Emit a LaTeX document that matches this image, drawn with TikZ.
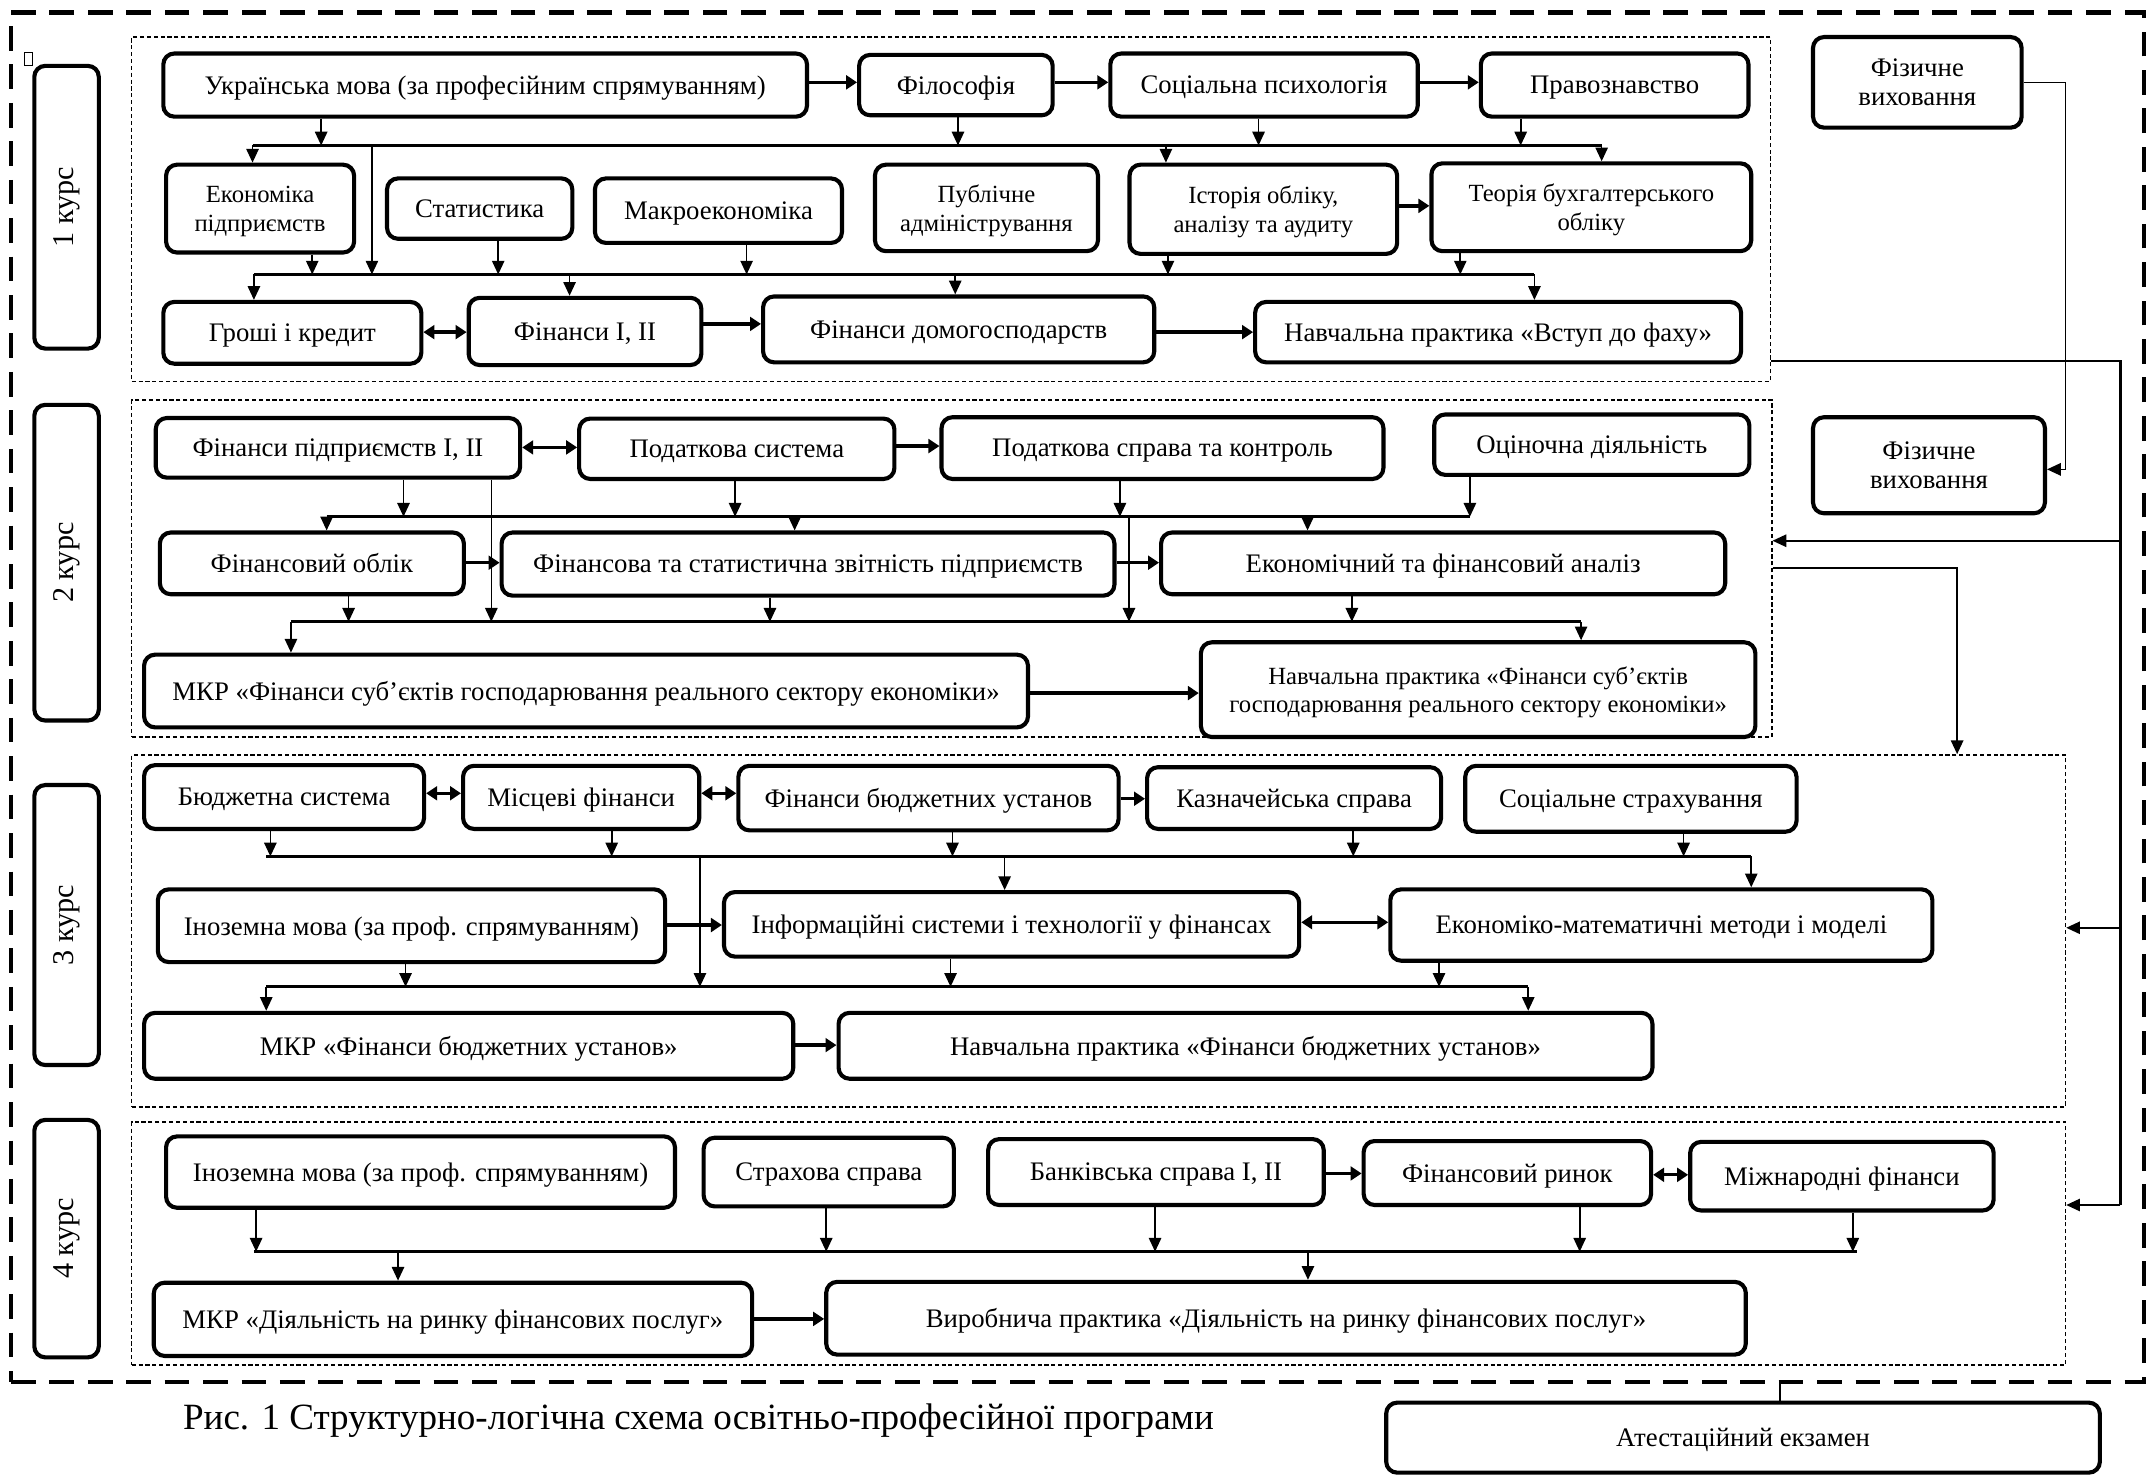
\documentclass[tikz,border=0pt]{standalone}
\usepackage{fontspec}
\setmainfont{Liberation Serif}
\usetikzlibrary{arrows.meta}
\newcommand\bx[7][box]{\node[#1, minimum width={(#5-#3)*0.5pt}, minimum height={(#6-#4)*0.5pt}] (#2) at ({(#3+#5)/2},{(#4+#6)/2}) {#7};}
\tikzset{
  box/.style={draw, line width=1.5pt, rounded corners=4pt, align=center, inner sep=1pt, text depth=0pt, font=\fontsize{9.75}{10.5}\selectfont},
  sbox/.style={box, font=\fontsize{9}{10.5}\selectfont},
  grp/.style={draw, dash pattern=on 1.5pt off 1pt, line width=0.5pt, inner sep=0pt},
  outerb/.style={draw, line width=1.6pt, dash pattern=on 9pt off 5pt, inner sep=0pt},
  arr/.style={-{Triangle[length=5pt,width=4.5pt]}, line width=0.6pt},
  harr/.style={-{Triangle[length=4pt,width=5pt]}, line width=1.2pt},
  dharr/.style={{Triangle[length=4pt,width=5pt]}-{Triangle[length=4pt,width=5pt]}, line width=1.2pt},
  bus/.style={line width=1pt},
  kbox/.style={draw, line width=1.5pt, rounded corners=4pt, rotate=90, inner sep=0pt, font=\fontsize{11}{12}\selectfont}
}
\begin{document}
\begin{tikzpicture}[x=0.5pt,y=-0.5pt]
\useasboundingbox (0,0) rectangle (1568,1074);
% outer frame and groups
\bx[outerb]{outer}{8}{9}{1562}{1007}{}
\bx[grp]{g1}{96}{27}{1290}{278}{}
\bx[grp]{g2}{96}{291.5}{1291}{537}{}
\bx[grp]{g3}{96}{550}{1505}{806.5}{}
\bx[grp]{g4}{96}{817.5}{1505}{994.6}{}
\node[draw, line width=0.4pt, minimum width=3pt, minimum height=5pt, inner sep=0pt] (glyph) at (21,43) {};
% course labels
\node[kbox, minimum width={(254-48)*0.5pt}, minimum height={(72-25)*0.5pt}] (k1) at (48.5,151) {1 курс};
\node[kbox, minimum width={(525-295)*0.5pt}, minimum height={(72-25)*0.5pt}] (k2) at (48.5,410) {2 курс};
\node[kbox, minimum width={(776-572)*0.5pt}, minimum height={(72-25)*0.5pt}] (k3) at (48.5,674) {3 курс};
\node[kbox, minimum width={(989-816)*0.5pt}, minimum height={(72-25)*0.5pt}] (k4) at (48.5,902.5) {4 курс};
% year 1
\bx{ukr}{119}{39}{588}{85}{Українська мова (за професійним спрямуванням)}
\bx{fil}{626}{40}{767}{84}{Філософія}
\bx{soc}{809}{39}{1033}{85}{Соціальна психологія}
\bx{prav}{1079}{39}{1274}{85}{Правознавство}
\bx{fiz1}{1321}{27}{1473}{93}{Фізичне\\виховання}
\bx[sbox]{ekon}{121}{120}{258}{184}{Економіка\\підприємств}
\bx{stat}{282}{130}{417}{174}{Статистика}
\bx{makro}{433.5}{130}{613.5}{177}{Макроекономіка}
\bx[sbox]{publ}{637.5}{120}{800}{183}{Публічне\\адміністрування}
\bx[sbox]{ist}{823}{120}{1018}{185}{Історія обліку,\\аналізу та аудиту}
\bx[sbox]{teor}{1043}{119}{1276}{183}{Теорія бухгалтерського\\обліку}
\bx{groshi}{119}{220}{307}{265}{Гроші і кредит}
\bx{fin12}{341.5}{217}{511}{266}{Фінанси I, II}
\bx{domog}{556}{216}{841}{264}{Фінанси домогосподарств}
\bx{navch1}{914.5}{220}{1268.6}{264}{Навчальна практика «Вступ до фаху»}
% year 2
\bx{fp}{113.5}{304.6}{379}{348}{Фінанси підприємств I, II}
\bx{ps}{422}{305}{651.7}{349}{Податкова система}
\bx{psk}{686}{304}{1008}{349}{Податкова справа та контроль}
\bx{ocin}{1045}{302}{1274.6}{346}{Оціночна діяльність}
\bx{fiz2}{1321}{304}{1490}{374}{Фізичне\\виховання}
\bx{fo}{116.5}{388}{338}{433}{Фінансовий облік}
\bx{fsz}{365.5}{388}{812}{434}{Фінансова та статистична звітність підприємств}
\bx{eka}{846}{388}{1257}{433}{Економічний та фінансовий аналіз}
\bx{mkr2}{105}{477}{749}{530}{МКР «Фінанси суб’єктів господарювання реального сектору економіки»}
\bx[sbox]{np2}{875}{468}{1279}{537}{Навчальна практика «Фінанси суб’єктів\\господарювання реального сектору економіки»}
% year 3
\bx{bs}{105}{557.5}{309}{604}{Бюджетна система}
\bx{mf}{337.4}{558}{509.5}{604}{Місцеві фінанси}
\bx{fbu}{538}{558}{815}{605}{Фінанси бюджетних установ}
\bx{kaz}{835.8}{559}{1050}{604}{Казначейська справа}
\bx{soc3}{1067.6}{558}{1309}{606}{Соціальне страхування}
\bx{inoz3}{115}{648}{484.6}{701}{Іноземна мова (за проф. спрямуванням)}
\bx{inf}{527.5}{650}{946.6}{697}{Інформаційні системи і технології у фінансах}
\bx{ekm}{1013}{648}{1408}{700}{Економіко-математичні методи і моделі}
\bx{mkr3}{105}{738}{578}{786}{МКР «Фінанси бюджетних установ»}
\bx{np3}{611}{738}{1204}{786}{Навчальна практика «Фінанси бюджетних установ»}
% year 4
\bx{inoz4}{121}{828}{491.8}{880}{Іноземна мова (за проф. спрямуванням)}
\bx{strah}{512.7}{829}{695}{879}{Страхова справа}
\bx{bank}{720}{830}{964.5}{878}{Банківська справа I, II}
\bx{fr}{993.6}{831.4}{1203}{878}{Фінансовий ринок}
\bx{mf4}{1231.5}{832}{1452.6}{882}{Міжнародні фінанси}
\bx{mkr4}{112}{934.6}{548}{988}{МКР «Діяльність на ринку фінансових послуг»}
\bx{vyr}{602}{934}{1272}{987}{Виробнича практика «Діяльність на ринку фінансових послуг»}
% bottom
\bx{att}{1010}{1022}{1530}{1073}{Атестаційний екзамен}
\node[font=\fontsize{13.5}{15}\selectfont, anchor=west, inner sep=0pt] (cap) at (133,1035) {Рис. 1 Структурно-логічна схема освітньо-професійної програми};

% ---------- connectors year 1
\draw[harr] (ukr.east |- 0,60) -- (fil.west |- 0,60);
\draw[harr] (fil.east |- 0,60) -- (soc.west |- 0,60);
\draw[harr] (soc.east |- 0,60) -- (prav.west |- 0,60);
\coordinate (a1) at (184,106); \coordinate (a2) at (1167,106);
\draw[bus] (a1) -- (a2);
\draw[arr] (234,0 |- ukr.south) -- (234,0 |- a1);
\draw[arr] (698,0 |- fil.south) -- (698,0 |- a1);
\draw[arr] (917,0 |- soc.south) -- (917,0 |- a1);
\draw[arr] (1108,0 |- prav.south) -- (1108,0 |- a1);
\draw[arr] (a1) -- (a1 |- ekon.north);
\draw[arr] (849.5,0 |- a1) -- (849.5,0 |- ist.north);
\draw[arr] (a2) -- (a2 |- teor.north);
\coordinate (b1) at (185,200); \coordinate (b2) at (1118,200);
\draw[bus] (b1) -- (b2);
\draw[arr] (271,0 |- a1) -- (271,0 |- b1);
\draw[arr] (227.5,0 |- ekon.south) -- (227.5,0 |- b1);
\draw[arr] (363,0 |- stat.south) -- (363,0 |- b1);
\draw[arr] (544,0 |- makro.south) -- (544,0 |- b1);
\draw[arr] (851,0 |- ist.south) -- (851,0 |- b1);
\draw[arr] (1064,0 |- teor.south) -- (1064,0 |- b1);
\draw[arr] (b1) -- (b1 |- groshi.north);
\draw[arr] (415,0 |- b1) -- (415,0 |- fin12.north);
\draw[arr] (696,0 |- b1) -- (696,0 |- domog.north);
\draw[arr] (b2) -- (b2 |- navch1.north);
\draw[harr] (ist.east |- 0,150) -- (teor.west |- 0,150);
\draw[dharr] (groshi.east |- 0,242) -- (fin12.west |- 0,242);
\draw[harr] (fin12.east |- 0,236) -- (domog.west |- 0,236);
\draw[harr] (domog.east |- 0,242) -- (navch1.west |- 0,242);

% ---------- year 2
\draw[dharr] (fp.east |- 0,326) -- (ps.west |- 0,326);
\draw[harr] (ps.east |- 0,325) -- (psk.west |- 0,325);
\coordinate (c1) at (238,376.5); \coordinate (c2) at (1071,376.5);
\draw[bus] (c1) -- (c2);
\draw[arr] (294,0 |- fp.south) -- (294,0 |- c1);
\draw[arr] (535.6,0 |- ps.south) -- (535.6,0 |- c1);
\draw[arr] (816,0 |- psk.south) -- (816,0 |- c1);
\draw[arr] (c2 |- ocin.south) -- (c2);
\draw[arr] (c1) -- (c1 |- fo.north);
\draw[arr] (579,0 |- c1) -- (579,0 |- fsz.north);
\draw[arr] (952.7,0 |- c1) -- (952.7,0 |- eka.north);
\draw[harr] (fo.east |- 0,410) -- (fsz.west |- 0,410);
\draw[harr] (fsz.east |- 0,410) -- (eka.west |- 0,410);
\coordinate (d1) at (212,453); \coordinate (d2) at (1152,453);
\draw[bus] (d1) -- (d2);
\draw[arr] (358,0 |- fp.south) -- (358,0 |- d1);
\draw[arr] (822.6,0 |- c1) -- (822.6,0 |- d1);
\draw[arr] (254,0 |- fo.south) -- (254,0 |- d1);
\draw[arr] (561,0 |- fsz.south) -- (561,0 |- d1);
\draw[arr] (985,0 |- eka.south) -- (985,0 |- d1);
\draw[arr] (d1) -- (d1 |- mkr2.north);
\draw[arr] (d2) -- (d2 |- np2.north);
\draw[harr] (mkr2.east |- 0,505) -- (np2.west |- 0,505);

% ---------- year 3
\draw[dharr] (bs.east |- 0,578) -- (mf.west |- 0,578);
\draw[dharr] (mf.east |- 0,578) -- (fbu.west |- 0,578);
\draw[harr] (fbu.east |- 0,582) -- (kaz.west |- 0,582);
\coordinate (e1) at (194,624); \coordinate (e2) at (1276,624);
\draw[bus] (e1) -- (e2);
\draw[arr] (197,0 |- bs.south) -- (197,0 |- e1);
\draw[arr] (445.7,0 |- mf.south) -- (445.7,0 |- e1);
\draw[arr] (694,0 |- fbu.south) -- (694,0 |- e1);
\draw[arr] (986,0 |- kaz.south) -- (986,0 |- e1);
\draw[arr] (1226.7,0 |- soc3.south) -- (1226.7,0 |- e1);
\draw[arr] (732,0 |- e1) -- (732,0 |- inf.north);
\draw[arr] (e2) -- (e2 |- ekm.north);
\draw[harr] (inoz3.east |- 0,674) -- (inf.west |- 0,674);
\draw[dharr] (inf.east |- 0,672) -- (ekm.west |- 0,672);
\coordinate (f1) at (194,719); \coordinate (f2) at (1113.5,719);
\draw[bus] (f1) -- (f2);
\draw[arr] (510,0 |- e1) -- (510,0 |- f1);
\draw[arr] (295.5,0 |- inoz3.south) -- (295.5,0 |- f1);
\draw[arr] (692.6,0 |- inf.south) -- (692.6,0 |- f1);
\draw[arr] (1048.5,0 |- ekm.south) -- (1048.5,0 |- f1);
\draw[arr] (f1) -- (f1 |- mkr3.north);
\draw[arr] (f2) -- (f2 |- np3.north);
\draw[harr] (mkr3.east |- 0,761.5) -- (np3.west |- 0,761.5);

% ---------- year 4
\draw[harr] (bank.east |- 0,855) -- (fr.west |- 0,855);
\draw[dharr] (fr.east |- 0,856) -- (mf4.west |- 0,856);
\coordinate (h1) at (185,912); \coordinate (h2) at (1353,912);
\draw[bus] (h1) -- (h2);
\draw[arr] (186.6,0 |- inoz4.south) -- (186.6,0 |- h1);
\draw[arr] (602,0 |- strah.south) -- (602,0 |- h1);
\draw[arr] (841.6,0 |- bank.south) -- (841.6,0 |- h1);
\draw[arr] (1151,0 |- fr.south) -- (1151,0 |- h1);
\draw[arr] (1350,0 |- mf4.south) -- (1350,0 |- h1);
\draw[arr] (290,0 |- h1) -- (290,0 |- mkr4.north);
\draw[arr] (953,0 |- h1) -- (953,0 |- vyr.north);
\draw[harr] (mkr4.east |- 0,961) -- (vyr.west |- 0,961);

% ---------- right side
\coordinate (rA) at (1505,342);
\draw[arr] (fiz1.east) -| (rA) -- (fiz2.east |- rA);
\coordinate (rtop) at (1545,263);
\coordinate (r2) at (1545,394);
\coordinate (r3) at (1545,676);
\coordinate (rbot) at (1545,878);
\draw[line width=0.8pt] (g1.east |- rtop) -- (rtop) -- (rbot);
\draw[arr] (r2) -- (g2.east |- r2);
\draw[arr] (r3) -- (g3.east |- r3);
\draw[arr] (rbot) -- (g4.east |- rbot);
\coordinate (g23) at (1426,414);
\draw[arr] (g2.east |- g23) -- (g23) -- (g23 |- g3.north);
\draw[line width=0.6pt] (1297,0 |- outer.south) -- (1297,0 |- att.north);
\end{tikzpicture}
\end{document}
